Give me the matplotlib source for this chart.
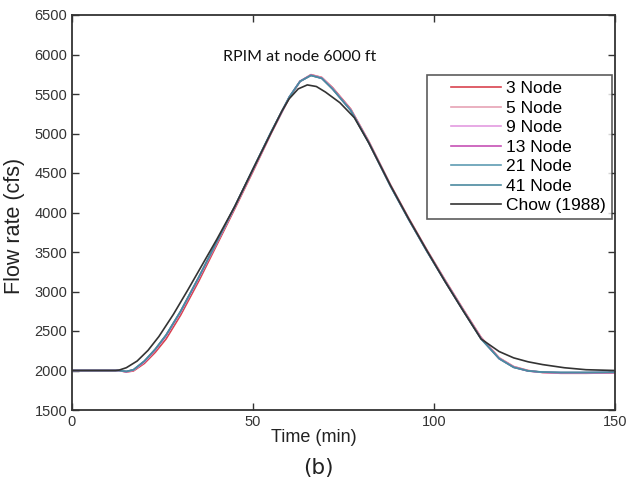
import matplotlib.pyplot as plt
from matplotlib.lines import Line2D
from matplotlib.legend_handler import HandlerLine2D

# time axis (min) shared by the RPIM node runs
t_node = [0, 13, 15, 17, 20, 23, 26, 30, 35, 40, 45, 50, 55, 60, 63, 66, 69, 72,
          77, 82, 88, 93, 98, 103, 108, 113, 118, 122, 126, 130, 135, 142, 150]

node3 = [2000, 2000, 1980, 1995, 2090, 2230, 2400, 2700, 3130, 3590, 4050, 4520, 5000, 5450, 5660, 5745, 5710, 5580,
         5310, 4900, 4350, 3930, 3530, 3150, 2780, 2420, 2160, 2050, 2000, 1975, 1965, 1965, 1970]
node5 = [2000, 2000, 1985, 2005, 2110, 2260, 2440, 2740, 3170, 3620, 4070, 4540, 5010, 5455, 5660, 5740, 5705, 5570,
         5300, 4890, 4340, 3920, 3520, 3140, 2770, 2410, 2155, 2045, 1995, 1975, 1970, 1970, 1975]
node9 = [2000, 2000, 1985, 2005, 2110, 2260, 2440, 2740, 3170, 3620, 4070, 4540, 5010, 5455, 5660, 5738, 5703, 5568,
         5298, 4888, 4338, 3918, 3518, 3138, 2768, 2410, 2155, 2045, 1995, 1978, 1972, 1972, 1975]
node13 = [2000, 2000, 1985, 2008, 2115, 2265, 2445, 2745, 3175, 3625, 4075, 4545, 5015, 5460, 5662, 5738, 5700, 5565,
          5295, 4885, 4335, 3915, 3515, 3135, 2765, 2405, 2150, 2042, 1993, 1978, 1972, 1972, 1975]
node21 = [2000, 2000, 1988, 2010, 2120, 2270, 2450, 2750, 3180, 3630, 4080, 4550, 5020, 5460, 5660, 5735, 5698, 5562,
          5292, 4882, 4332, 3912, 3512, 3132, 2762, 2400, 2150, 2040, 1995, 1980, 1975, 1975, 1978]
node41 = [2000, 2000, 1988, 2010, 2120, 2270, 2450, 2750, 3180, 3630, 4080, 4550, 5020, 5460, 5660, 5735, 5698, 5562,
          5292, 4882, 4332, 3912, 3512, 3132, 2762, 2400, 2150, 2040, 1995, 1980, 1975, 1975, 1978]

t_chow = [0, 12, 13, 15, 18, 21, 24, 28, 32, 36, 40, 45, 50, 55, 58, 60, 62.5, 65, 67.5, 70,
          74, 78, 82, 88, 93, 98, 103, 108, 113, 118, 122, 126, 130, 136, 142, 150]
chow = [2000, 2000, 2005, 2035, 2120, 2255, 2430, 2710, 3020, 3340, 3660, 4080, 4550, 5010, 5285, 5440, 5565, 5615, 5595, 5525,
        5390, 5200, 4880, 4340, 3920, 3520, 3130, 2760, 2400, 2240, 2160, 2110, 2075, 2035, 2010, 2000]

labels = ["3 Node", "5 Node", "9 Node", "13 Node", "21 Node", "41 Node", "Chow (1988)"]
colors = ["#d9434f", "#e6a3b5", "#e39be0", "#c651b5", "#5f9cb3", "#4c8aa0", "#333333"]
series = [node3, node5, node9, node13, node21, node41]

fig = plt.figure(figsize=(6.41, 4.88), dpi=100)
ax = fig.add_axes([72 / 641, 1 - 410 / 488, 543 / 641, 395 / 488])

for y, lab, c in zip(series, labels[:6], colors[:6]):
    ax.plot(t_node, y, color=c, lw=1.2, label=lab)
ax.plot(t_chow, chow, color=colors[6], lw=1.2, label=labels[6])

ax.set_xlim(0, 150)
ax.set_ylim(1500, 6500)
ax.set_xticks([0, 50, 100, 150])
ax.set_yticks(range(1500, 6501, 500))
ax.tick_params(direction="in", length=5, width=1, top=True, right=True,
               labelsize=10.5, colors="#333333")
for lbl in ax.get_xticklabels() + ax.get_yticklabels():
    lbl.set_family("Liberation Sans")
for sp in ax.spines.values():
    sp.set_linewidth(1.3)
    sp.set_color("#333333")

ax.set_xlabel("Time (min)", fontsize=13, family="Liberation Sans", color="#222222")
ax.xaxis.set_label_coords((314 - 72) / 543, -0.047)
ax.set_ylabel("Flow rate (cfs)", fontsize=15.5, family="Liberation Sans", color="#222222")
ax.yaxis.set_label_coords((25 - 72) / 543, (410 - 226) / 395)
ax.text(63, 5970, "RPIM at node 6000 ft", ha="center", va="center", fontsize=11.5,
        family="Lato", color="#111111")

leg = ax.legend(loc="upper right", bbox_to_anchor=(0.995, 0.848), borderaxespad=0,
                fancybox=False, edgecolor="#333333", labelspacing=0.25,
                handlelength=3.91, handletextpad=0.29, borderpad=0.35,
                prop={"family": "Liberation Sans", "size": 12.5},
                handler_map={Line2D: HandlerLine2D(xpad=1.03)})
leg.get_frame().set_linewidth(1.2)

fig.text(318 / 641, 1 - 468 / 488, "(b)", ha="center", va="center", fontsize=15.5,
         family="DejaVu Sans", color="#222222")

plt.savefig("out.png", dpi=100)
plt.close(fig)
